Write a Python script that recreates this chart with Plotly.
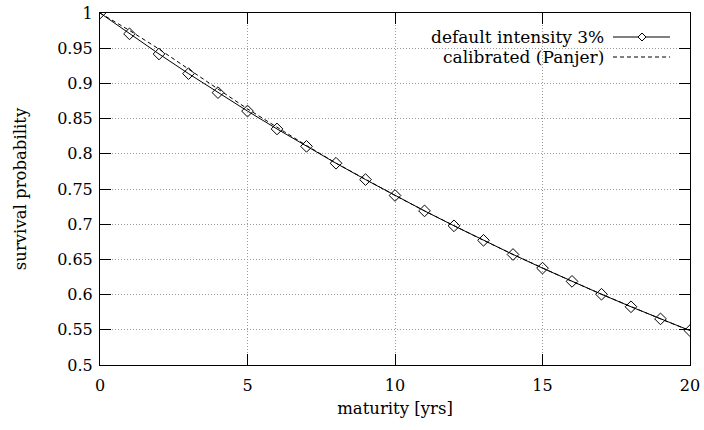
import plotly.graph_objects as go

maturity = list(range(0, 21))
default_intensity = [1.0, 0.9704, 0.9418, 0.9139, 0.8869, 0.8607, 0.8353, 0.8106,
                     0.7866, 0.7634, 0.7408, 0.7189, 0.6977, 0.6771, 0.6570, 0.6376,
                     0.6188, 0.6005, 0.5827, 0.5655, 0.5488]
calibrated = [1.0, 0.9752, 0.9488, 0.9210, 0.8920, 0.8638, 0.8375, 0.8118,
              0.7868, 0.7634, 0.7408, 0.7189, 0.6977, 0.6771, 0.6570, 0.6376,
              0.6188, 0.6005, 0.5827, 0.5655, 0.5488]
x_ticks = [0, 5, 10, 15, 20]
y_ticks = [0.5, 0.55, 0.6, 0.65, 0.7, 0.75, 0.8, 0.85, 0.9, 0.95, 1.0]
y_tick_labels = ["0.5", "0.55", "0.6", "0.65", "0.7", "0.75", "0.8", "0.85", "0.9", "0.95", "1"]
legend_labels = ["default intensity 3%", "calibrated (Panjer)"]

FONT = "DejaVu Serif, Liberation Serif, serif"

W, H = 704, 430
L, R, T, B = 100, 14, 13, 65
pw, ph = W - L - R, H - T - B

def px(xp):  # page pixel -> paper coord
    return (xp - L) / pw

def py(yp):
    return 1 - (yp - T) / ph

fig = go.Figure()
fig.add_trace(go.Scatter(x=maturity, y=calibrated, mode="lines",
                         line=dict(color="black", width=1, dash="4px,3px"),
                         name=legend_labels[1], showlegend=False))
fig.add_trace(go.Scatter(x=maturity, y=default_intensity, mode="lines+markers",
                         line=dict(color="black", width=1),
                         marker=dict(symbol="diamond-open", size=9, color="black",
                                     line=dict(width=1, color="black")),
                         name=legend_labels[0], showlegend=False))

rows = [37, 57]
for i, yy in enumerate(rows):
    fig.add_annotation(x=px(606), y=py(yy), xref="paper", yref="paper",
                       text=legend_labels[i], showarrow=False, xanchor="right",
                       yanchor="middle", font=dict(family=FONT, size=17, color="black"))
fig.add_shape(type="line", xref="paper", yref="paper", x0=px(613), x1=px(670),
              y0=py(rows[0]), y1=py(rows[0]), line=dict(color="black", width=1))
fig.add_shape(type="line", xref="paper", yref="paper", x0=px(613), x1=px(670),
              y0=py(rows[1]), y1=py(rows[1]), line=dict(color="black", width=1, dash="4px,3px"))
cx, cy, d = 642, rows[0], 4
fig.add_shape(type="path", xref="paper", yref="paper",
              path=f"M {px(cx-d)} {py(cy)} L {px(cx)} {py(cy-d)} L {px(cx+d)} {py(cy)} L {px(cx)} {py(cy+d)} Z",
              fillcolor="white", line=dict(color="black", width=1))

axis_common = dict(showline=True, linecolor="black", linewidth=1, mirror="ticks",
                   ticks="inside", ticklen=11, tickcolor="black", tickwidth=1,
                   showgrid=True, gridcolor="#9a9a9a", griddash="1px,2px", gridwidth=1,
                   zeroline=False, automargin=False,
                   tickfont=dict(family=FONT, size=16, color="black"))

fig.update_xaxes(range=[0, 20], tickvals=x_ticks, ticktext=[str(v) for v in x_ticks],
                 ticklabelstandoff=6,
                 title=dict(text="maturity [yrs]", font=dict(family=FONT, size=16.5, color="black"),
                            standoff=8),
                 **axis_common)
fig.update_yaxes(range=[0.5, 1.0], tickvals=y_ticks, ticktext=y_tick_labels,
                 ticklabelstandoff=3,
                 title=dict(text="survival probability", font=dict(family=FONT, size=16.5, color="black"),
                            standoff=26),
                 **axis_common)

fig.update_layout(width=W, height=H, margin=dict(l=L, r=R, t=T, b=B, autoexpand=False),
                  plot_bgcolor="white", paper_bgcolor="white", showlegend=False,
                  font=dict(family=FONT, size=16, color="black"))

fig.write_html("out.html", config={"displayModeBar": False},
               post_script="document.body.style.margin='0';document.body.style.overflow='hidden';")
